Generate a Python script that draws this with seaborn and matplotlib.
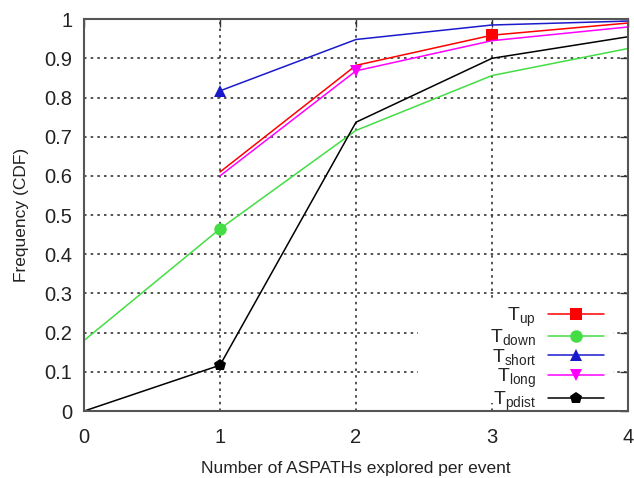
import matplotlib
matplotlib.use("Agg")
import matplotlib.pyplot as plt
from matplotlib.patches import Rectangle
import seaborn as sns
import pandas as pd

sns.set_theme(style="white")
plt.rcParams["font.family"] = ["Liberation Sans", "DejaVu Sans"]
plt.rcParams["mathtext.fontset"] = "custom"
plt.rcParams["mathtext.rm"] = "Liberation Sans"

# CDF of number of AS paths explored per event, by event type
x_up = [1, 2, 3, 4]
y_up = [0.61, 0.882, 0.959, 0.99]
x_down = [0, 1, 2, 3, 4]
y_down = [0.18, 0.465, 0.716, 0.856, 0.925]
x_short = [1, 2, 3, 4]
y_short = [0.817, 0.948, 0.985, 0.995]
x_long = [1, 2, 3, 4]
y_long = [0.60, 0.868, 0.945, 0.98]
x_pdist = [0, 1, 2, 3, 4]
y_pdist = [0.0, 0.117, 0.737, 0.90, 0.955]

series = [
    (r"T$_\mathregular{up}$", x_up, y_up, "#ff0000", "s", [2], 9),
    (r"T$_\mathregular{down}$", x_down, y_down, "#44dd44", "o", [1], 9),
    (r"T$_\mathregular{short}$", x_short, y_short, "#1a1acc", "^", [0], 8),
    (r"T$_\mathregular{long}$", x_long, y_long, "#ff00ff", "v", [1], 8),
    (r"T$_\mathregular{pdist}$", x_pdist, y_pdist, "#000000", "p", [1], 9),
]

fig = plt.figure(figsize=(6.34, 4.78), dpi=100)
ax = fig.add_axes([0.1325, 0.14, 0.858, 0.82])

for label, xs, ys, color, marker, every, ms in series:
    df = pd.DataFrame({"x": xs, "y": ys})
    sns.lineplot(data=df, x="x", y="y", ax=ax, color=color, marker=marker,
                 markevery=every, markersize=ms, markeredgewidth=0,
                 linewidth=1.1, label=label)

ax.set_xlim(0, 4)
ax.set_ylim(0, 1)
ax.set_xticks([0, 1, 2, 3, 4])
ax.set_yticks([i / 10 for i in range(11)])
ax.set_yticklabels(["0", "0.1", "0.2", "0.3", "0.4", "0.5", "0.6", "0.7", "0.8", "0.9", "1"])
ax.tick_params(direction="in", length=6, width=1, top=True, right=True,
               labelsize=14.5, colors="#333333", labelcolor="#222222", pad=8.5)
ax.tick_params(axis="x", pad=12)
ax.grid(True, color="#333333", linestyle=(0, (1.5, 2.5)), linewidth=1.2)
ax.set_axisbelow(True)
for sp in ax.spines.values():
    sp.set_color("#555555")
    sp.set_linewidth(1.5)

ax.set_xlabel("Number of ASPATHs explored per event", fontsize=12.5, color="#222222", labelpad=10)
ax.set_ylabel("Frequency (CDF)", fontsize=12.5, color="#222222", labelpad=11)

# opaque key area hides the grid behind the legend
ax.add_patch(Rectangle((0.614, 0.02), 0.358, 0.268, transform=ax.transAxes,
                       facecolor="white", edgecolor="none", zorder=1))

leg = ax.legend(loc="lower right", bbox_to_anchor=(0.956, -0.004), borderaxespad=0,
                markerfirst=False, fontsize=14, frameon=False,
                handlelength=2.9, handletextpad=0.6, labelspacing=-0.05,
                borderpad=0.0)

fig.savefig("out.png", dpi=100)
